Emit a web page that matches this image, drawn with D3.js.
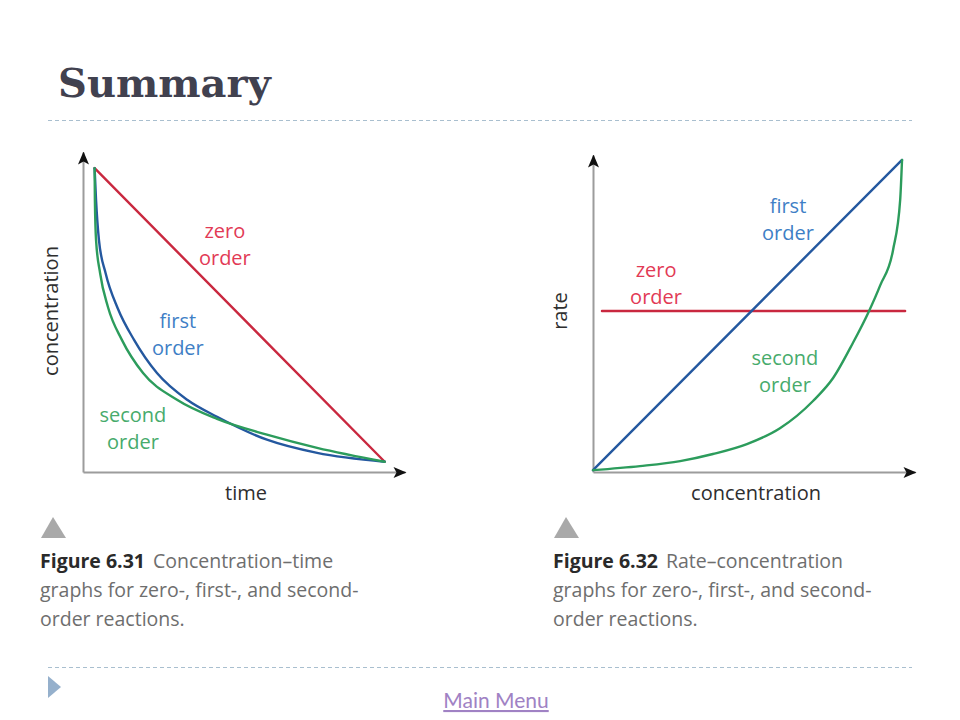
<!DOCTYPE html>
<html>
<head>
<meta charset="utf-8">
<script src="https://cdn.jsdelivr.net/npm/d3@7.9.0/dist/d3.min.js"></script>
<style>
  body { margin: 0; background: #fff; }
  svg { display: block; }
</style>
</head>
<body>
<svg id="slide"></svg>
<script>
// Figure 6.31: concentration against time (arbitrary units, 0..10)
const zeroTime = [0, 10];
const zeroConc = [10, 0];
const firstTime = [0, 0.05, 0.15, 0.38, 0.8, 1.36, 2.15, 3.19, 4.22, 5.94, 7.67, 10];
const firstConc = [10, 8.91, 7.55, 6.42, 5.22, 4.15, 3.02, 2.11, 1.53, 0.75, 0.3, 0];
const secondTime = [0, 0.01, 0.05, 0.19, 0.46, 0.94, 1.67, 2.84, 4.22, 5.94, 7.67, 10];
const secondConc = [10, 8.91, 7.55, 6.42, 5.27, 4.15, 3.02, 2.11, 1.46, 0.92, 0.47, 0];

// Figure 6.32: rate against concentration
const zeroRateConc = [0.29, 10.1];
const zeroRate = [5.13, 5.13];
const firstRateConc = [0, 10];
const firstRate = [0, 10];
const secondRateConc = [0, 1.52, 2.82, 3.88, 4.98, 6.05, 7.12, 7.77, 8.41, 8.9, 9.29, 9.71, 9.94, 10];
const secondRate = [0, 0.13, 0.29, 0.52, 0.84, 1.35, 2.23, 2.97, 4.1, 5.06, 5.95, 7.1, 8.71, 10];

// curve labels, anchored in data units
const labelLines = ['zero', 'first', 'second'];
const leftLabelX = [4.49, 2.87, 1.32];
const leftLabelY = [7.62, 4.55, 1.35];
const rightLabelX = [2.04, 6.31, 6.21];
const rightLabelY = [6.23, 8.29, 3.39];

const captionHeads = ['Figure 6.31', 'Figure 6.32'];
const captionFirst = ['Concentration\u2013time', 'Rate\u2013concentration'];
const captionRest = ['graphs for zero-, first-, and second-', 'order reactions.'];

const width = 960;
const height = 720;
const colors = { zero: '#c9283f', first: '#24589f', second: '#2c9c5c' };
const labelColors = { zero: '#e23a55', first: '#3f7fc6', second: '#47ab6c' };
const font = '"Open Sans", "Noto Sans", sans-serif';

const svg = d3.select('#slide').attr('width', width).attr('height', height);

// arrowhead for the axes
svg.append('defs')
  .append('marker')
  .attr('id', 'arrow')
  .attr('markerUnits', 'userSpaceOnUse')
  .attr('viewBox', '-13 -6 14 12')
  .attr('markerWidth', 14)
  .attr('markerHeight', 12)
  .attr('refX', 0)
  .attr('refY', 0)
  .attr('orient', 'auto')
  .append('path')
  .attr('d', 'M1,0L-12,-5.5L-9,0L-12,5.5Z')
  .attr('fill', '#111');

// title and rules
svg.append('text')
  .attr('x', 58)
  .attr('y', 97)
  .attr('font-family', '"DejaVu Serif", serif')
  .attr('font-weight', 'bold')
  .attr('font-size', 40)
  .attr('fill', '#41414f')
  .text('Summary');

[120.5, 667.5].forEach((y) => {
  svg.append('line')
    .attr('x1', 48).attr('x2', 912)
    .attr('y1', y).attr('y2', y)
    .attr('stroke', '#a9bfcf')
    .attr('stroke-width', 1)
    .attr('stroke-dasharray', '4,3');
});

function drawChart(cfg) {
  const g = svg.append('g');
  const x = d3.scaleLinear().domain(cfg.xDomain).range(cfg.xRange);
  const y = d3.scaleLinear().domain(cfg.yDomain).range(cfg.yRange);

  // axes: only the domain line with an arrow
  const xAxis = d3.axisBottom(x).tickValues([]).tickSizeOuter(0);
  const yAxis = d3.axisLeft(y).tickValues([]).tickSizeOuter(0);
  [
    g.append('g').attr('transform', `translate(0, ${cfg.yRange[0]})`).call(xAxis),
    g.append('g').attr('transform', `translate(${cfg.xRange[0]}, 0)`).call(yAxis),
  ].forEach((ax) => {
    ax.select('.domain')
      .attr('stroke', '#9c9c9c')
      .attr('stroke-width', 2)
      .attr('marker-end', 'url(#arrow)');
  });

  const line = d3.line()
    .x((d) => x(d[0]))
    .y((d) => y(d[1]))
    .curve(d3.curveMonotoneX);

  cfg.series.forEach((s) => {
    g.append('path')
      .datum(d3.zip(s.xs, s.ys))
      .attr('d', line)
      .attr('fill', 'none')
      .attr('stroke', colors[s.key])
      .attr('stroke-width', 2.4)
      .attr('stroke-linecap', 'round');
  });

  labelLines.forEach((key, i) => {
    const t = g.append('text')
      .attr('x', x(cfg.labelX[i]))
      .attr('y', y(cfg.labelY[i]))
      .attr('text-anchor', 'middle')
      .attr('font-family', font)
      .attr('font-size', 20)
      .attr('fill', labelColors[key]);
    t.append('tspan').text(key);
    t.append('tspan')
      .attr('x', x(cfg.labelX[i]))
      .attr('dy', 27)
      .text('order');
  });

  // axis titles
  g.append('text')
    .attr('x', cfg.xTitlePos[0])
    .attr('y', cfg.xTitlePos[1])
    .attr('text-anchor', 'middle')
    .attr('font-family', font)
    .attr('font-size', 20)
    .attr('fill', '#2e2e2e')
    .text(cfg.xTitle);
  g.append('text')
    .attr('transform', `translate(${cfg.yTitlePos[0]}, ${cfg.yTitlePos[1]}) rotate(-90)`)
    .attr('text-anchor', 'middle')
    .attr('font-family', font)
    .attr('font-size', 20)
    .attr('fill', '#2e2e2e')
    .text(cfg.yTitle);
}

drawChart({
  xDomain: [-0.4, 10.7], xRange: [83, 405],
  yDomain: [-0.35, 10.55], yRange: [472, 152],
  series: [
    { key: 'zero', xs: zeroTime, ys: zeroConc },
    { key: 'first', xs: firstTime, ys: firstConc },
    { key: 'second', xs: secondTime, ys: secondConc },
  ],
  labelX: leftLabelX, labelY: leftLabelY,
  xTitle: 'time', xTitlePos: [246, 500],
  yTitle: 'concentration', yTitlePos: [58, 311],
});

drawChart({
  xDomain: [0, 10.42], xRange: [593, 915],
  yDomain: [-0.06, 10.16], yRange: [472, 155],
  series: [
    { key: 'zero', xs: zeroRateConc, ys: zeroRate },
    { key: 'first', xs: firstRateConc, ys: firstRate },
    { key: 'second', xs: secondRateConc, ys: secondRate },
  ],
  labelX: rightLabelX, labelY: rightLabelY,
  xTitle: 'concentration', xTitlePos: [756, 500],
  yTitle: 'rate', yTitlePos: [567, 311],
});

// captions with their grey triangle markers
[40, 553].forEach((x0, i) => {
  svg.append('path')
    .attr('d', `M${x0 + 13},517L${x0 + 1},538L${x0 + 26},538Z`)
    .attr('fill', '#a9a9a9');

  const cap = svg.append('text')
    .attr('font-family', font)
    .attr('font-size', 19.5)
    .attr('fill', '#6e6e6e');
  cap.append('tspan')
    .attr('x', x0).attr('y', 568)
    .attr('font-weight', 'bold')
    .attr('fill', '#2a2a2a')
    .text(captionHeads[i]);
  cap.append('tspan')
    .attr('dx', 8)
    .text(captionFirst[i]);
  captionRest.forEach((line, j) => {
    cap.append('tspan')
      .attr('x', x0)
      .attr('y', 597 + j * 29)
      .text(line);
  });
});

// footer bullet and link
svg.append('path')
  .attr('d', 'M48,676L61,687L48,698Z')
  .attr('fill', '#95b0cc');

svg.append('text')
  .attr('x', 496)
  .attr('y', 708)
  .attr('text-anchor', 'middle')
  .attr('font-family', 'Lato, sans-serif')
  .attr('font-size', 21)
  .attr('fill', '#a082c4')
  .attr('text-decoration', 'underline')
  .text('Main Menu');
</script>
</body>
</html>
